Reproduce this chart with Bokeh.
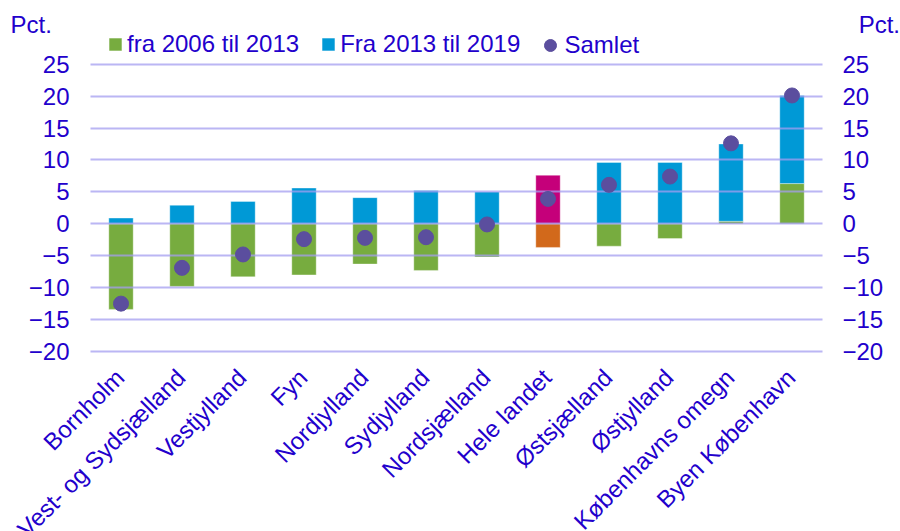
import math
from bokeh.plotting import figure
from bokeh.layouts import column
from bokeh.models import (ColumnDataSource, FactorRange, Range1d, LinearAxis, FixedTicker,
                          Legend, LegendItem, Label)
from bokeh.core.properties import value
from bokeh.embed import file_html
from bokeh.resources import INLINE

# ---------------- data ----------------
regions = ["Bornholm", "Vest- og Sydsjælland", "Vestjylland", "Fyn", "Nordjylland",
           "Sydjylland", "Nordsjælland", "Hele landet", "Østsjælland", "Østjylland",
           "Københavns omegn", "Byen København"]
change_2006_2013 = [-13.4, -9.8, -8.3, -8.0, -6.3, -7.3, -5.2, -3.7, -3.5, -2.3, 0.4, 6.3]
change_2013_2019 = [0.9, 2.9, 3.5, 5.6, 4.1, 5.2, 5.0, 7.6, 9.6, 9.6, 12.1, 13.8]
total = [-12.5, -6.9, -4.8, -2.4, -2.2, -2.1, -0.1, 3.9, 6.1, 7.4, 12.6, 20.1]
y_ticks = [-20, -15, -10, -5, 0, 5, 10, 15, 20, 25]
highlight = "Hele landet"
series_names = ["fra 2006 til 2013", "Fra 2013 til 2019", "Samlet"]
unit = "Pct."

# ---------------- style ----------------
TXT = "#2200CC"
FONT = "Liberation Sans"
GREEN, BLUE = "#77AC3F", "#0099D6"
ORANGE, MAGENTA = "#D2691B", "#C5007A"
DOT = "#5B4E9E"
FS = "24px"
W = 900
HEAD_H, MAIN_H, FOOT_H = 35, 330, 166
LEFT, RIGHT = 90, 78          # frame borders of the main plot
CAT_W = (W - LEFT - RIGHT) / len(regions)

g_bottom = [0.0] * len(regions)
g_top = list(change_2006_2013)
b_bottom = [max(g, 0.0) for g in change_2006_2013]
b_top = [bb + b for bb, b in zip(b_bottom, change_2013_2019)]
g_color = [ORANGE if r == highlight else GREEN for r in regions]
b_color = [MAGENTA if r == highlight else BLUE for r in regions]

src = ColumnDataSource(dict(region=regions, g_bottom=g_bottom, g_top=g_top,
                            b_bottom=b_bottom, b_top=b_top, g_color=g_color,
                            b_color=b_color, total=total))

# ---------------- main plot ----------------
p = figure(width=W, height=MAIN_H, x_range=FactorRange(factors=regions, range_padding=0),
           y_range=Range1d(-20.31, 29.49), output_backend="svg", toolbar_location=None,
           title=None, min_border_left=LEFT, min_border_right=RIGHT, min_border_top=0,
           min_border_bottom=12)
p.outline_line_color = None
p.frame_align = False

rg = p.vbar(x="region", bottom="g_bottom", top="g_top", width=0.4, fill_color="g_color",
            line_color="white", line_alpha=0.35, line_width=1, source=src)
rb = p.vbar(x="region", bottom="b_bottom", top="b_top", width=0.4, fill_color="b_color",
            line_color="white", line_alpha=0.35, line_width=1, source=src)
rd = p.scatter(x="region", y="total", size=15, fill_color=DOT, line_color=DOT,
               source=src, level="overlay")

p.xgrid.visible = False
p.ygrid.ticker = FixedTicker(ticks=y_ticks)
p.ygrid.grid_line_color = "#A49EF0"
p.ygrid.grid_line_alpha = 0.75
p.ygrid.grid_line_width = 2
p.ygrid.level = "annotation"
p.xaxis.visible = False

def style_axis(ax, standoff):
    ax.ticker = FixedTicker(ticks=y_ticks)
    ax.axis_line_color = None
    ax.major_tick_line_color = None
    ax.minor_tick_line_color = None
    ax.major_tick_in = 0
    ax.major_tick_out = 0
    ax.minor_tick_in = 0
    ax.minor_tick_out = 0
    ax.major_label_text_font = FONT
    ax.major_label_text_font_size = FS
    ax.major_label_text_color = TXT
    ax.major_label_standoff = standoff

style_axis(p.yaxis[0], 21)
right = LinearAxis()
style_axis(right, 20)
p.add_layout(right, "right")

leg1 = Legend(items=[LegendItem(label=series_names[0], renderers=[rg], index=0),
                     LegendItem(label=series_names[1], renderers=[rb], index=0)],
              orientation="horizontal", location=(17, 295), glyph_width=16, glyph_height=16,
              label_standoff=4, spacing=21, padding=0, margin=0, border_line_color=None,
              background_fill_alpha=0, label_text_font=FONT, label_text_font_size=FS,
              label_text_color=TXT, label_height=24)
leg2 = Legend(items=[LegendItem(label=series_names[2], renderers=[rd], index=0)],
              orientation="horizontal", location=(444.5, 293.5), glyph_width=30,
              glyph_height=30, label_standoff=0, padding=0, margin=0,
              border_line_color=None, background_fill_alpha=0, label_text_font=FONT,
              label_text_font_size=FS, label_text_color=TXT, label_height=24)
p.add_layout(leg1)
p.add_layout(leg2)

# ---------------- header: unit labels ----------------
h = figure(width=W, height=HEAD_H, x_range=Range1d(0, W), y_range=Range1d(0, HEAD_H),
           output_backend="svg", toolbar_location=None, title=None,
           min_border=0, min_border_left=0, min_border_right=0, min_border_top=0,
           min_border_bottom=0)
h.frame_align = False
h.axis.visible = False
h.grid.visible = False
h.outline_line_color = None
h.add_layout(Label(x=10, y=11.0, text=unit, text_font=FONT, text_font_size=FS,
                   text_color=TXT, text_align="left", text_baseline="alphabetic"))
h.add_layout(Label(x=W - 0.5, y=11.0, text=unit, text_font=FONT, text_font_size=FS,
                   text_color=TXT, text_align="right", text_baseline="alphabetic"))

# ---------------- footer: rotated category labels ----------------
f = figure(width=W, height=FOOT_H,
           x_range=Range1d(-LEFT / CAT_W, (W - LEFT) / CAT_W), y_range=Range1d(0, FOOT_H),
           output_backend="svg", toolbar_location=None, title=None,
           min_border=0, min_border_left=0, min_border_right=0, min_border_top=0,
           min_border_bottom=0)
f.frame_align = False
f.axis.visible = False
f.grid.visible = False
f.outline_line_color = None
lab_src = ColumnDataSource(dict(x=[i + 0.5 for i in range(len(regions))],
                                y=[FOOT_H - 7.8] * len(regions), text=regions))
f.text(x="x", y="y", text="text", source=lab_src, angle=math.pi / 4, x_offset=-1,
       text_align="right", text_baseline="alphabetic", text_font=value(FONT),
       text_font_size=FS, text_color=TXT)

layout = column(h, p, f, spacing=0)
open("out.html", "w").write(file_html(layout, INLINE))
